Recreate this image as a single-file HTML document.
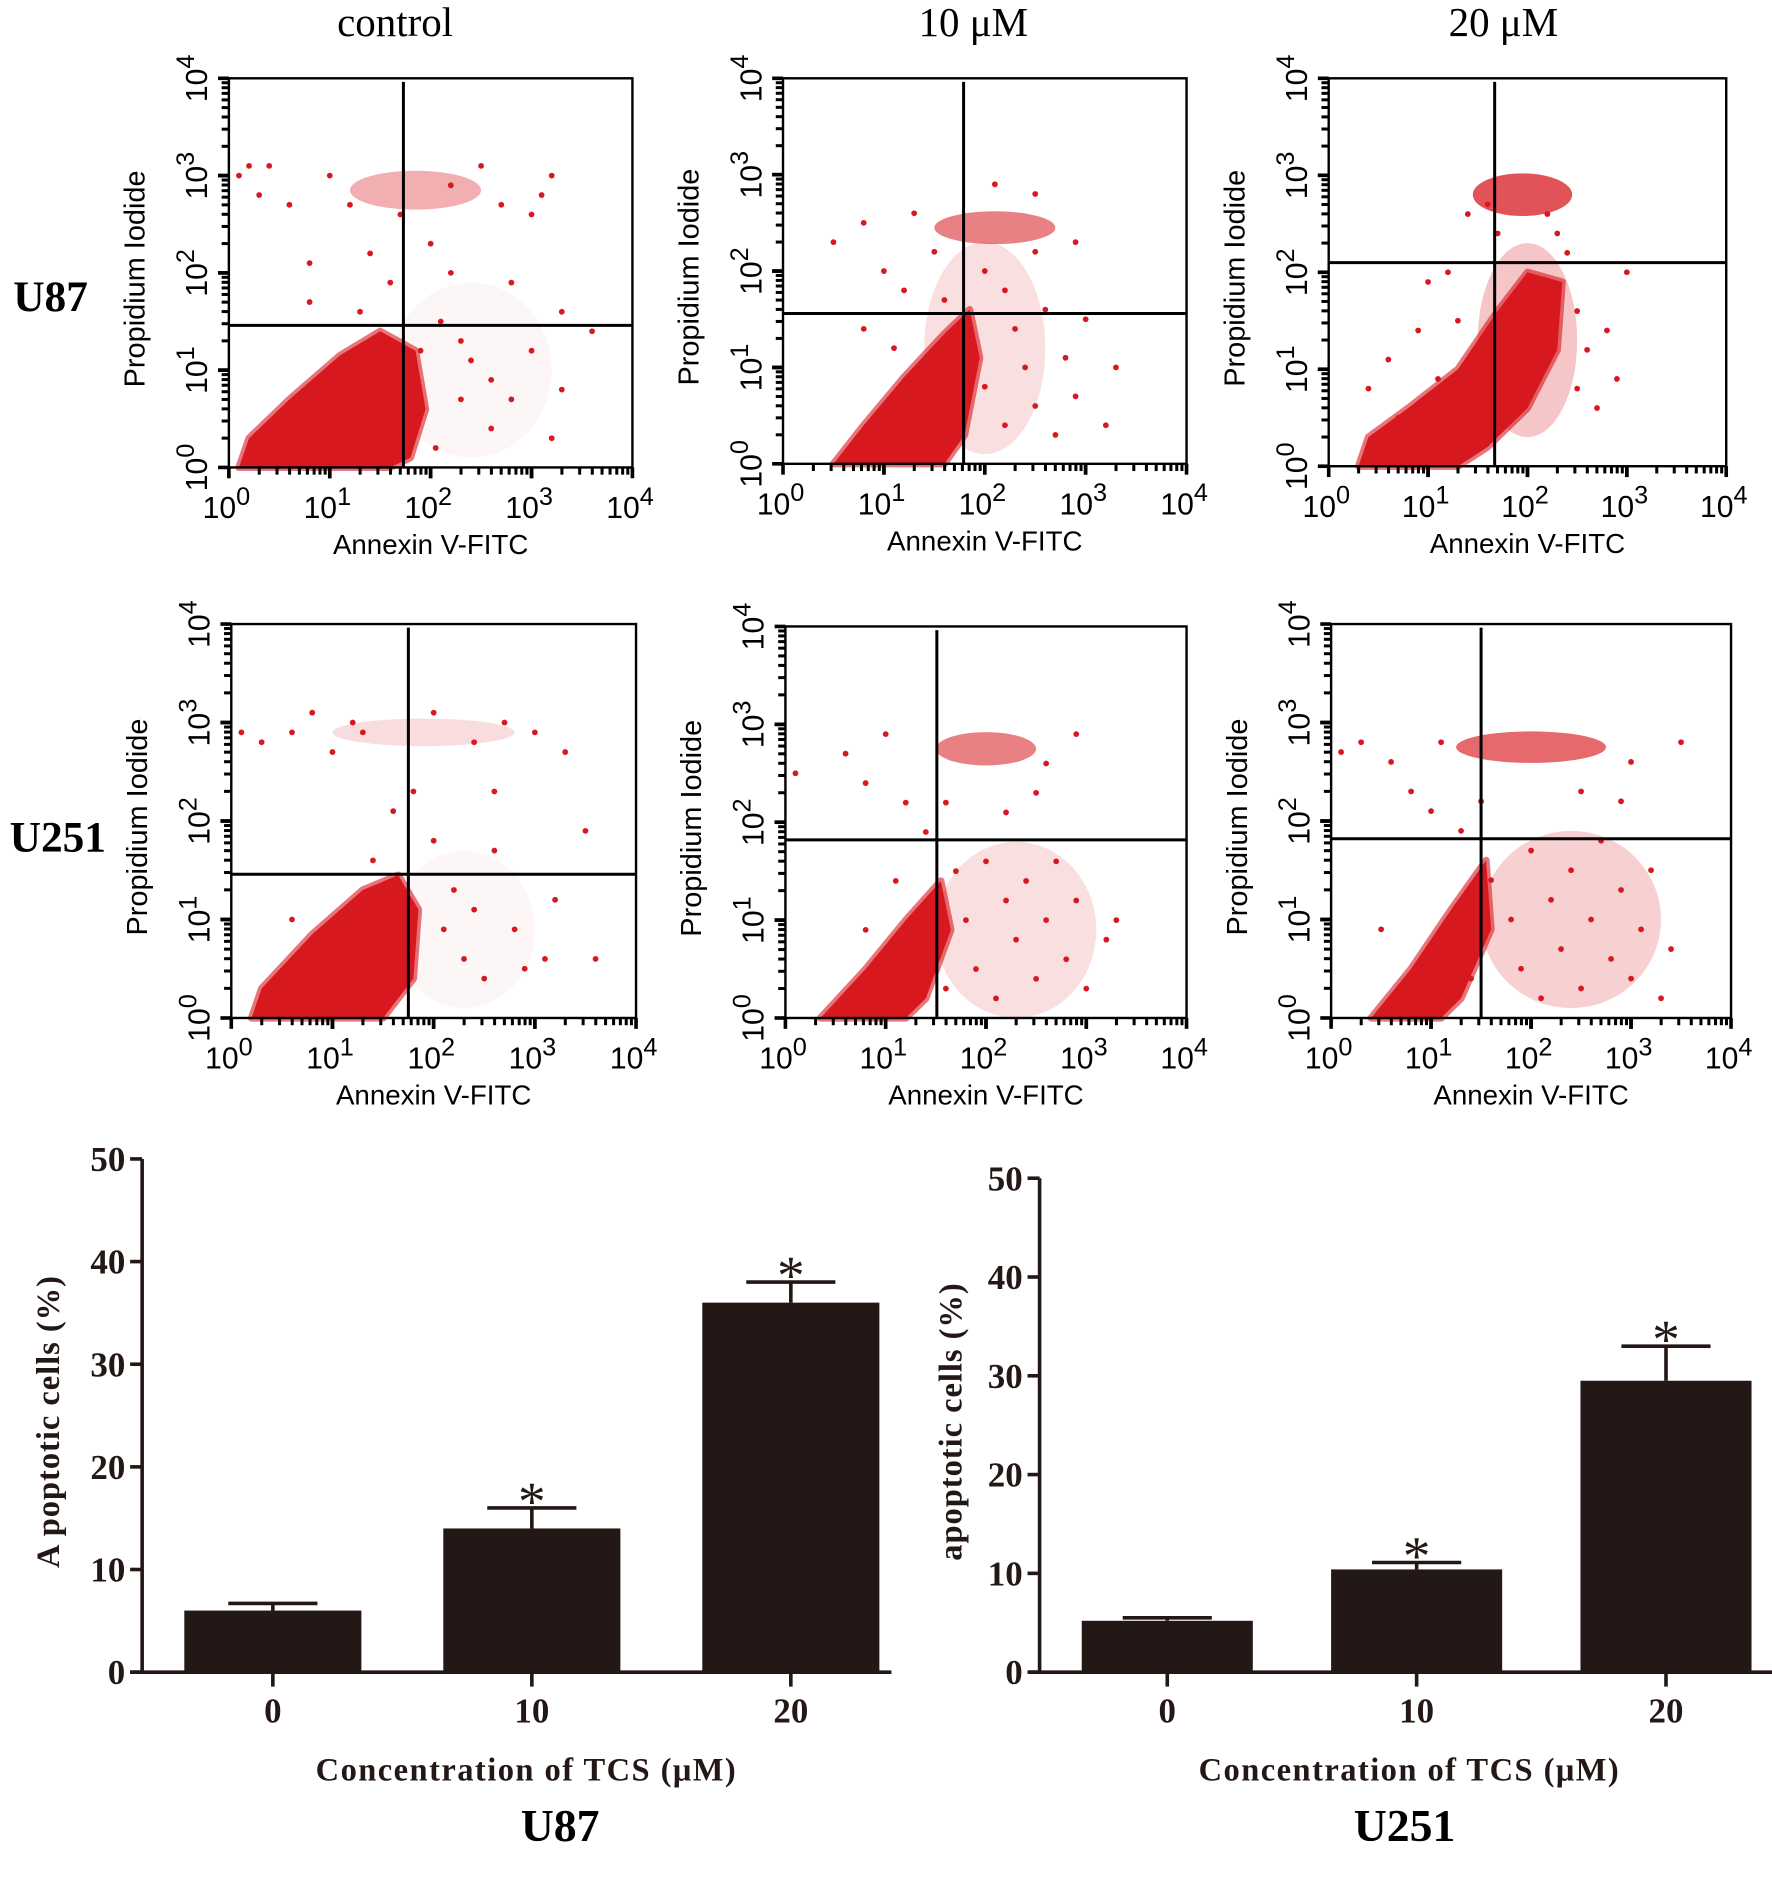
<!DOCTYPE html>
<html><head><meta charset="utf-8"><style>
html,body{margin:0;padding:0;background:#fff;}
svg{display:block;}
</style></head><body>
<svg id="fig" xmlns="http://www.w3.org/2000/svg" width="1772" height="1889" viewBox="0 0 1471 1568" preserveAspectRatio="none">
<g font-family="'Liberation Serif',serif">
<text x="328" y="30" font-size="34" text-anchor="middle">control</text>
<text x="808" y="30" font-size="34" text-anchor="middle">10 μM</text>
<text x="1248" y="30" font-size="34" text-anchor="middle">20 μM</text>
<text x="42" y="258" font-size="36" font-weight="bold" text-anchor="middle">U87</text>
<text x="48" y="707" font-size="36" font-weight="bold" text-anchor="middle">U251</text>
</g>
<g id="plots"></g>
</svg>
<script>
// ---------- flow cytometry data (log10 units) ----------
const panelNames = ["u87-control","u87-10um","u87-20um","u251-control","u251-10um","u251-20um"];
const quadX = [1.73, 1.79, 1.67, 1.75, 1.51, 1.50];
const quadY = [1.46, 1.56, 2.10, 1.46, 1.82, 1.82];
const clouds = [
 [[0.1,0],[0.2,0.3],[0.6,0.7],[1.1,1.15],[1.5,1.4],[1.85,1.2],[1.95,0.6],[1.8,0.1],[1.6,0]],
 [[0.5,0],[0.8,0.4],[1.2,0.9],[1.6,1.35],[1.85,1.6],[1.95,1.1],[1.8,0.3],[1.6,0]],
 [[0.3,0],[0.4,0.3],[0.8,0.6],[1.3,1.0],[1.7,1.6],[2.0,2.0],[2.35,1.9],[2.3,1.2],[2.0,0.6],[1.6,0.2],[1.3,0]],
 [[0.2,0],[0.3,0.3],[0.8,0.85],[1.3,1.3],[1.65,1.45],[1.85,1.1],[1.8,0.4],[1.5,0]],
 [[0.35,0],[0.8,0.5],[1.2,1.0],[1.55,1.4],[1.65,0.9],[1.4,0.2],[1.2,0]],
 [[0.4,0],[0.8,0.5],[1.2,1.1],[1.55,1.6],[1.6,0.9],[1.3,0.2],[1.1,0]]
];
const clusterX = [1.85, 2.1, 1.95, 1.9, 2.0, 2.0];
const clusterY = [2.85, 2.45, 2.8, 2.9, 2.75, 2.75];
const clusterRX = [0.65, 0.6, 0.5, 0.9, 0.5, 0.75];
const clusterRY = [0.2, 0.17, 0.22, 0.14, 0.17, 0.16];
const clusterOp = [0.35, 0.55, 0.75, 0.15, 0.55, 0.65];
const hazeX = [2.4, 2.0, 2.0, 2.3, 2.3, 2.4];
const hazeY = [1.0, 1.2, 1.3, 0.9, 0.9, 1.0];
const hazeRX = [0.8, 0.6, 0.5, 0.7, 0.8, 0.9];
const hazeRY = [0.9, 1.1, 1.0, 0.8, 0.9, 0.9];
const hazeOp = [0.04, 0.14, 0.25, 0.04, 0.14, 0.2];
const sparse = [
 [[0.2,3.1],[0.4,3.1],[0.3,2.8],[0.6,2.7],[0.8,2.1],[0.8,1.7],[1.0,3.0],[1.3,1.6],[1.4,2.2],[1.6,1.9],[1.7,2.6],[2.0,2.3],[2.1,1.5],[2.2,2.0],[2.3,1.3],[2.3,0.7],[2.4,1.1],[2.6,0.9],[2.6,0.4],[2.8,1.9],[2.8,0.7],[3.0,2.6],[3.0,1.2],[3.1,2.8],[3.3,0.8],[3.2,0.3],[3.3,1.6],[3.6,1.4],[3.2,3.0],[2.5,3.1],[2.2,2.9],[1.9,1.2],[2.05,0.2],[1.2,2.7],[2.7,2.7],[0.1,3.0]],
 [[0.5,2.3],[0.8,2.5],[1.0,2.0],[1.2,1.8],[1.3,2.6],[1.5,2.2],[1.6,1.7],[2.0,2.0],[2.2,1.8],[2.3,1.4],[2.4,1.0],[2.5,0.6],[2.6,1.6],[2.7,0.3],[2.5,2.2],[2.2,0.4],[2.0,0.8],[2.8,1.1],[2.9,0.7],[3.0,1.5],[3.2,0.4],[2.1,2.9],[2.5,2.8],[1.1,1.2],[1.0,0.6],[0.8,1.4],[2.9,2.3],[3.3,1.0]],
 [[0.4,0.8],[0.6,1.1],[0.9,1.4],[1.0,1.9],[1.2,2.0],[1.4,2.6],[1.6,2.7],[2.3,2.4],[2.5,1.6],[2.6,1.2],[2.5,0.8],[2.7,0.6],[2.8,1.4],[2.9,0.9],[2.4,2.2],[1.1,0.9],[1.3,1.5],[0.7,0.5],[3.0,2.0],[2.2,2.6],[1.7,2.4]],
 [[0.1,2.9],[0.3,2.8],[0.6,2.9],[0.8,3.1],[1.0,2.7],[1.2,3.0],[1.3,2.9],[1.6,2.1],[1.8,2.3],[2.0,1.8],[2.1,0.9],[2.2,1.3],[2.3,0.6],[2.4,1.1],[2.5,0.4],[2.6,1.7],[2.6,2.3],[2.8,0.9],[2.9,0.5],[3.1,0.6],[3.2,1.2],[3.3,2.7],[3.0,2.9],[2.7,3.0],[2.4,2.8],[3.5,1.9],[3.6,0.6],[2.0,3.1],[0.6,1.0],[1.4,1.6]],
 [[0.1,2.5],[0.6,2.7],[0.8,2.4],[1.0,2.9],[1.2,2.2],[1.4,1.9],[1.6,2.2],[1.7,1.5],[1.8,1.0],[1.9,0.5],[2.0,1.6],[2.1,0.2],[2.2,1.2],[2.3,0.8],[2.4,1.4],[2.5,0.4],[2.6,1.0],[2.7,1.6],[2.8,0.6],[2.9,1.2],[3.0,0.3],[3.2,0.8],[2.5,2.3],[2.9,2.9],[2.6,2.6],[1.6,0.3],[0.8,0.9],[1.1,1.4],[3.3,1.0],[2.2,2.1]],
 [[0.1,2.7],[0.3,2.8],[0.6,2.6],[0.8,2.3],[1.0,2.1],[1.1,2.8],[1.3,1.9],[1.5,2.2],[1.6,1.4],[1.8,1.0],[1.9,0.5],[2.0,1.7],[2.1,0.2],[2.2,1.2],[2.3,0.7],[2.4,1.5],[2.5,0.3],[2.6,1.0],[2.7,1.8],[2.8,0.6],[2.9,1.3],[3.0,0.4],[3.1,0.9],[3.2,1.5],[3.3,0.2],[2.5,2.3],[3.0,2.6],[2.9,2.2],[0.5,0.9],[3.5,2.8],[3.4,0.7],[1.4,0.4]]
];
// panel boxes (layout)
const boxes = [[190,65,525,388],[650,65,985,385],[1103,65,1433,387],[192,518,528,845],[652,520,985,845],[1105,518,1437,845]];

// ---------- bar chart data ----------
const barCats = ["0","10","20"];
const u87Vals = [6, 14, 36];
const u87Err = [6.7, 16, 38];
const u87Sig = [false, true, true];
const u251Vals = [5.2, 10.4, 29.5];
const u251Err = [5.5, 11.1, 33];
const u251Sig = [false, true, true];
const yTicks = [0, 10, 20, 30, 40, 50];

const NS = "http://www.w3.org/2000/svg";
const root = document.getElementById("plots");
function mk(tag, attrs, parent){ const e=document.createElementNS(NS,tag); for(const k in attrs) e.setAttribute(k,attrs[k]); (parent||root).appendChild(e); return e; }
const RED = "#d7191f";

panelNames.forEach((nm, i) => {
  const [x0,y0,x1,y1] = boxes[i];
  const g = mk("g", {});
  
  
  const sx = v => x0 + (x1-x0)*v/4;
  const sy = v => y1 - (y1-y0)*v/4;
  const hz = mk("ellipse", {cx:sx(hazeX[i]), cy:sy(hazeY[i]), rx:(x1-x0)*hazeRX[i]/4, ry:(y1-y0)*hazeRY[i]/4, fill:RED, opacity:hazeOp[i]}, g);
  
  
  const poly = mk("polygon", {points: clouds[i].map(p => sx(p[0])+","+sy(p[1])).join(" "), fill:RED, stroke:RED, "stroke-width":6, "stroke-linejoin":"round", "stroke-opacity":0.6}, g);
  
  
  const cl = mk("ellipse", {cx:sx(clusterX[i]), cy:sy(clusterY[i]), rx:(x1-x0)*clusterRX[i]/4, ry:(y1-y0)*clusterRY[i]/4, fill:RED, opacity:clusterOp[i]}, g);
  
  
  sparse[i].forEach(p => {
    const c = mk("circle", {cx:sx(p[0]), cy:sy(p[1]), r:2.4, fill:RED}, g);
    
    
  });
  const bx = mk("rect", {x:x0, y:y0, width:x1-x0, height:y1-y0, fill:"none", stroke:"#000", "stroke-width":2}, g);
  
  
  const qv = mk("line", {x1:sx(quadX[i]), x2:sx(quadX[i]), y1:y0+3, y2:y1, stroke:"#000", "stroke-width":2.5}, g);
  
  
  const qh = mk("line", {x1:x0, x2:x1, y1:sy(quadY[i]), y2:sy(quadY[i]), stroke:"#000", "stroke-width":2.5}, g);
  
  
  for (let d=0; d<4; d++) for (let m=1; m<=10; m++) {
    const v = d + Math.log10(m);
    const major = (m===1 || m===10);
    const len = major ? 9 : 6;
    const tx = mk("line", {x1:sx(v), x2:sx(v), y1:y1, y2:y1+len, stroke:"#000", "stroke-width":major?3:2.5}, g);
    
    
    const ty = mk("line", {x1:x0, x2:x0-len, y1:sy(v), y2:sy(v), stroke:"#000", "stroke-width":major?3:2.5}, g);
    
    
  }
  for (let d=0; d<=4; d++) {
    const t = mk("text", {x:sx(d)-2, y:y1+42, "font-family":"'Liberation Sans',sans-serif", "font-size":25, "text-anchor":"middle"}, g);
    
    
    t.textContent = "10";
    const s = mk("tspan", {dy:-11, "font-size":21}, t); s.textContent = String(d);
    const ty = mk("text", {transform:`translate(${x0-18},${sy(d)}) rotate(-90)`, "font-family":"'Liberation Sans',sans-serif", "font-size":25, "text-anchor":"middle"}, g);
    
    
    ty.textContent = "10";
    const s2 = mk("tspan", {dy:-11, "font-size":21}, ty); s2.textContent = String(d);
  }
  const xl = mk("text", {x:(x0+x1)/2, y:y1+72, "font-family":"'Liberation Sans',sans-serif", "font-size":23, "text-anchor":"middle"}, g);
  
  
  xl.textContent = "Annexin V-FITC";
  const yl = mk("text", {transform:`translate(${x0-70},${(y0+y1)/2+5}) rotate(-90)`, "font-family":"'Liberation Sans',sans-serif", "font-size":24, "text-anchor":"middle"}, g);
  
  
  yl.textContent = "Propidium Iodide";
});

// ---------- bar charts ----------
function barChart(name, vals, errs, sig, ax, yTop, yBot, xEnd, barL, barW, gap, titleX, ylabel, ylabX, cellName) {
  const g = mk("g", {"font-family":"'Liberation Serif',serif"});
  
  
  const sy = v => yBot - (yBot-yTop)*v/50;
  const cx = i => barL + i*(barW+gap) + barW/2;
  const a1 = mk("line", {x1:ax, x2:ax, y1:yTop, y2:yBot, stroke:"#231815", "stroke-width":3}, g);
  
  
  const a2 = mk("line", {x1:ax-10, x2:xEnd, y1:yBot, y2:yBot, stroke:"#231815", "stroke-width":3}, g);
  
  
  yTicks.forEach(t => {
    const l = mk("line", {x1:ax-10, x2:ax, y1:sy(t), y2:sy(t), stroke:"#231815", "stroke-width":3}, g);
    
    
    const tx = mk("text", {x:ax-14, y:sy(t)+10, "font-size":29, "font-weight":"bold", "text-anchor":"end", fill:"#231815"}, g);
    
    
    tx.textContent = String(t);
  });
  barCats.forEach((c, i) => {
    const ex = mk("line", {x1:cx(i), x2:cx(i), y1:sy(errs[i]), y2:sy(vals[i]), stroke:"#231815", "stroke-width":3}, g);
    
    
    const cap = mk("line", {x1:cx(i)-37, x2:cx(i)+37, y1:sy(errs[i]), y2:sy(errs[i]), stroke:"#231815", "stroke-width":3}, g);
    
    
    const r = mk("rect", {x:barL + i*(barW+gap), y:sy(vals[i]), width:barW, height:yBot-sy(vals[i]), fill:"#231815"}, g);
    
    
    const tk = mk("line", {x1:cx(i), x2:cx(i), y1:yBot, y2:yBot+12, stroke:"#231815", "stroke-width":3}, g);
    
    
    const lb = mk("text", {x:cx(i), y:yBot+42, "font-size":29, "font-weight":"bold", "text-anchor":"middle", fill:"#231815"}, g);
    
    
    lb.textContent = c;
    if (sig[i]) {
      const st = mk("text", {x:cx(i), y:sy(errs[i])+10, "font-size":46, "text-anchor":"middle", fill:"#231815"}, g);
      
      
      st.textContent = "*";
    }
  });
  const xt = mk("text", {x:titleX, y:yBot+90, "font-size":27, "font-weight":"bold", "text-anchor":"middle", fill:"#231815", "letter-spacing":"1.2"}, g);
  
  
  xt.textContent = "Concentration of TCS (μM)";
  const ct = mk("text", {x:titleX+(cellName==="U87"?28:-4), y:1528, "font-size":38, "font-weight":"bold", "text-anchor":"middle", fill:"#000"}, g);
  
  
  ct.textContent = cellName;
  const yt = mk("text", {transform:`translate(${ylabX},${1180}) rotate(-90)`, "font-size":27, "font-weight":"bold", "text-anchor":"middle", fill:"#231815", "letter-spacing":"0.8"}, g);
  
  
  yt.textContent = ylabel;
}
barChart("bar-chart-u87", u87Vals, u87Err, u87Sig, 118, 962, 1388, 740, 153, 147, 68, 437, "A poptotic cells (%)", 49, "U87");
barChart("bar-chart-u251", u251Vals, u251Err, u251Sig, 863, 978, 1388, 1471, 898, 142, 65, 1170, "apoptotic cells (%)", 798, "U251");
</script>
</body></html>
